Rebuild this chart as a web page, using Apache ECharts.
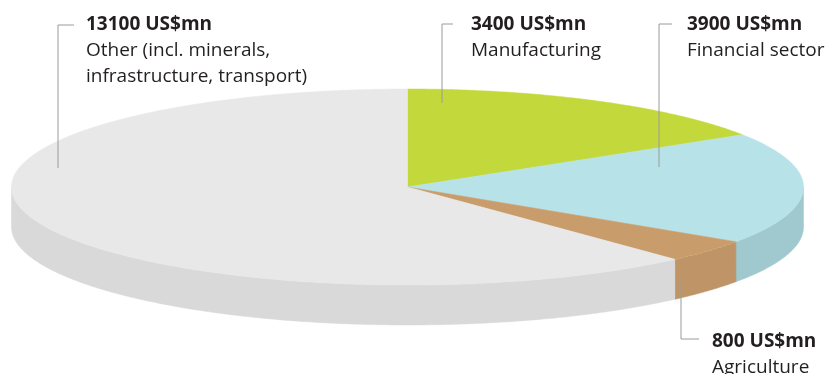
<!DOCTYPE html>
<html>
<head>
<meta charset="utf-8">
<script src="https://cdn.jsdelivr.net/npm/echarts@6/dist/echarts.min.js"></script>
<style>html,body{margin:0;padding:0;background:#fff}#c{width:828px;height:374px}</style>
</head>
<body>
<div id="c"></div>
<script>
// ---- data ----
var categories = ['Manufacturing', 'Financial sector', 'Agriculture', 'Other (incl. minerals,\ninfrastructure, transport)'];
var values = [3400, 3900, 800, 13100];
var unit = 'US$mn';

// ---- styles ----
var topColors = ['#c3d93b', '#b7e2e7', '#c99c6b', '#e8e8e8'];
var sideColors = ['#a9bd33', '#9fc8cf', '#bf9568', '#d9d9d9'];
var geo = { cx: 407.5, cy: 187, rx: 396, ry: 98, depth: 40 };
// label layout: anchor on pie, elbow y, elbow end x, text x, text top y
var labelLayout = [
  { ax: 442, ay: 103, ly: 24, lx2: 453, tx: 471, ty: 12 },
  { ax: 659, ay: 167, ly: 24, lx2: 672, tx: 687, ty: 12 },
  { ax: 681, ay: 280, ly: 339, lx2: 699, tx: 712, ty: 328.5 },
  { ax: 58, ay: 168, ly: 25, lx2: 74, tx: 86, ty: 12 }
];

var total = values.reduce(function (a, b) { return a + b; }, 0);
var starts = [], ends = [];
(function () {
  var acc = 0;
  for (var i = 0; i < values.length; i++) {
    starts.push(acc / total * 360);
    acc += values[i];
    ends.push(acc / total * 360);
  }
})();

function pt(deg, dy) {
  var r = deg * Math.PI / 180;
  return [geo.cx + geo.rx * Math.sin(r), geo.cy - geo.ry * Math.cos(r) + (dy || 0)];
}
function arc(a, b, dy) {
  var pts = [];
  var n = Math.max(2, Math.ceil((b - a) / 0.5));
  for (var k = 0; k <= n; k++) pts.push(pt(a + (b - a) * k / n, dy));
  return pts;
}

function renderSide(params, api) {
  var i = params.dataIndex;
  var a = Math.max(starts[i], 90), b = Math.min(ends[i], 270);
  if (b <= a) return { type: 'group', children: [] };
  var up = arc(a, b, 0);
  var down = arc(a, b, geo.depth).reverse();
  var children = [{
    type: 'polygon',
    shape: { points: up.concat(down) },
    style: { fill: sideColors[i], stroke: sideColors[i], lineWidth: 0.5 }
  }];
  if (i === 2) {
    children.push({
      type: 'polyline', shape: { points: up },
      style: { stroke: '#e2c4a2', lineWidth: 1, lineDash: [3, 2], fill: null }
    });
  }
  return { type: 'group', children: children };
}
function renderTop(params, api) {
  var i = params.dataIndex;
  var pts = [[geo.cx, geo.cy]].concat(arc(starts[i], ends[i], 0));
  return {
    type: 'polygon',
    shape: { points: pts },
    style: { fill: topColors[i], stroke: topColors[i], lineWidth: 0.5 }
  };
}

var graphics = [];
for (var i = 0; i < values.length; i++) {
  var L = labelLayout[i];
  graphics.push({
    type: 'polyline', z: 10,
    shape: { points: [[L.ax, L.ay], [L.ax, L.ly], [L.lx2, L.ly]] },
    style: { stroke: '#9a9a9a', lineWidth: 1, fill: null }
  });
  var lines = categories[i].split('\n');
  var txt = '{b|' + values[i] + ' ' + unit + '}';
  lines.forEach(function (l) { txt += '\n{n|' + l + '}'; });
  graphics.push({
    type: 'text', z: 10, x: L.tx, y: L.ty,
    style: {
      text: txt,
      rich: {
        b: { fontFamily: 'Open Sans', fontWeight: 'bold', fontSize: 19, lineHeight: 26, fill: '#231f20' },
        n: { fontFamily: 'Open Sans', fontSize: 19, lineHeight: 26, fill: '#231f20' }
      },
      verticalAlign: 'top', align: 'left'
    }
  });
}

var chart = echarts.init(document.getElementById('c'), null, { renderer: 'canvas' });
chart.setOption({
  animation: false,
  backgroundColor: '#ffffff',
  series: [
    { type: 'custom', coordinateSystem: 'none', renderItem: renderSide, data: values, z: 1, silent: true },
    { type: 'custom', coordinateSystem: 'none', renderItem: renderTop, data: values, z: 2, silent: true }
  ],
  graphic: graphics
});
</script>
</body>
</html>
